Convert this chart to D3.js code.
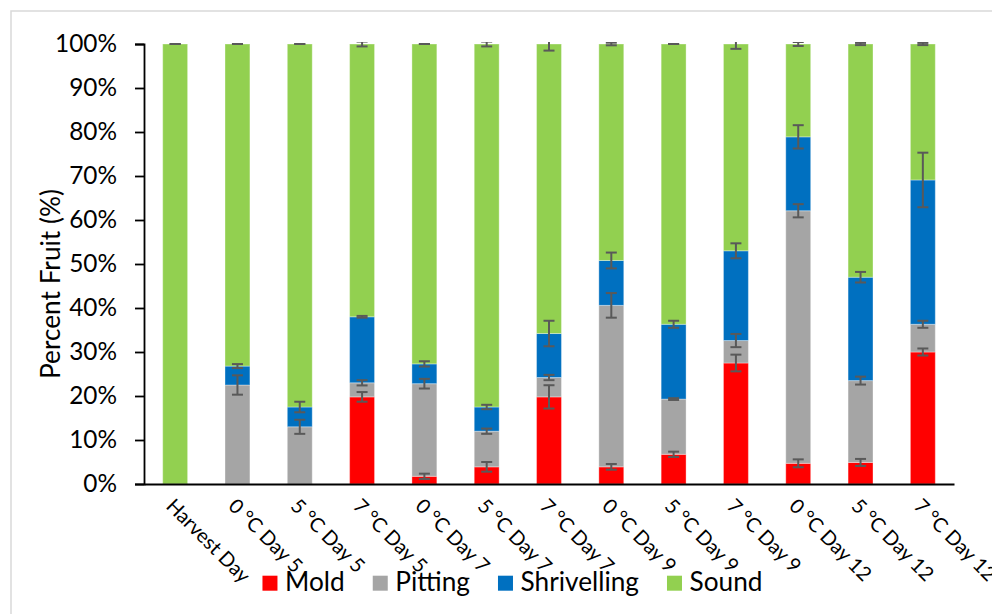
<!DOCTYPE html>
<html>
<head>
<meta charset="utf-8">
<script src="https://cdn.jsdelivr.net/npm/d3@7"></script>
<style>
  html, body { margin: 0; padding: 0; background: #fff; }
  svg { display: block; }
</style>
</head>
<body>
<svg id="chart" width="992" height="614"></svg>
<script>
// ---- data ----
const categories = ["Harvest Day", "0 °C Day 5", "5 °C Day 5", "7 °C Day 5", "0 °C Day 7", "5 °C Day 7", "7 °C Day 7", "0 °C Day 9", "5 °C Day 9", "7 °C Day 9", "0 °C Day 12", "5 °C Day 12", "7 °C Day 12"];
const seriesNames = ["Mold", "Pitting", "Shrivelling", "Sound"];
const mold        = [0, 0, 0, 19.8, 1.75, 3.9, 19.8, 3.9, 6.75, 27.5, 4.7, 4.9, 30.0];
const pitting     = [0, 22.5, 13.0, 3.2, 21.05, 8.1, 4.4, 36.7, 12.55, 5.1, 57.4, 18.6, 6.3];
const shrivelling = [0, 4.3, 4.5, 15.0, 4.5, 5.5, 10.0, 10.2, 17.0, 20.4, 16.8, 23.5, 32.8];
const sound       = [100, 73.2, 82.5, 62.0, 72.7, 82.5, 65.8, 49.2, 63.7, 47.0, 21.1, 53.0, 30.9];
const moldErr        = [0, 0, 0, 1.1, 0.6, 1.1, 2.65, 0.65, 0.6, 1.9, 0.9, 0.8, 0.8];
const pittingErr     = [0, 2.2, 1.6, 0.6, 1.1, 0.6, 0.6, 2.8, 0.2, 1.5, 1.5, 0.9, 0.8];
const shrivellingErr = [0, 0.45, 1.2, 0.2, 0.6, 0.5, 2.9, 1.8, 0.8, 1.7, 2.65, 1.2, 6.2];
const soundErr       = [0, 0, 0, 0.55, 0, 0.55, 1.5, 0.3, 0, 1.1, 0.45, 0.25, 0.25];
const yTicks = [0, 10, 20, 30, 40, 50, 60, 70, 80, 90, 100];

// ---- styling ----
const colors = { "Mold": "#FF0000", "Pitting": "#A5A5A5", "Shrivelling": "#0070C0", "Sound": "#92D050" };
const FONT = "Lato, 'Noto Sans', sans-serif";

const svg = d3.select("#chart");

function fitSize(text, target) {
  const t = svg.append("text").attr("font-family", FONT).attr("font-size", 100).text(text);
  const w = t.node().getComputedTextLength();
  t.remove();
  return 100 * target / w;
}
const tickFS = fitSize("100%", 62);
const legendFS = fitSize("Shrivelling", 118.5);
const titleFS = fitSize("Percent Fruit (%)", 190);
const xFS = tickFS * 0.82;

// border
svg.append("rect").attr("x", 11).attr("y", 11).attr("width", 1100).attr("height", 800)
  .attr("fill", "none").attr("stroke", "#D9D9D9").attr("stroke-width", 1.5);

const plot = { left: 144, right: 954, top: 44, bottom: 484 };

const x = d3.scaleBand().domain(categories).range([plot.left, plot.right])
  .paddingInner(0.6).paddingOuter(0.3);
const y = d3.scaleLinear().domain([0, 100]).range([plot.bottom, plot.top]);

// table for stacking
const values = { "Mold": mold, "Pitting": pitting, "Shrivelling": shrivelling, "Sound": sound };
const errors = { "Mold": moldErr, "Pitting": pittingErr, "Shrivelling": shrivellingErr, "Sound": soundErr };
const table = categories.map((c, i) => {
  const row = { cat: c };
  seriesNames.forEach(s => row[s] = values[s][i]);
  return row;
});
const stacked = d3.stack().keys(seriesNames)(table);

// clip
svg.append("clipPath").attr("id", "clip").append("rect")
  .attr("x", plot.left).attr("y", plot.top - 2).attr("width", plot.right - plot.left).attr("height", plot.bottom - plot.top + 2);

// bars
const gBars = svg.append("g");
stacked.forEach(layer => {
  gBars.append("g").attr("fill", colors[layer.key])
    .selectAll("rect").data(layer).join("rect")
    .attr("x", d => x(d.data.cat))
    .attr("width", x.bandwidth())
    .attr("y", d => y(d[1]))
    .attr("height", d => Math.max(0, y(d[0]) - y(d[1])))
    .attr("stroke", "#ffffff").attr("stroke-opacity", 0.35).attr("stroke-width", 1);
});

// error bars
const gErr = svg.append("g").attr("clip-path", "url(#clip)")
  .attr("stroke", "#595959").attr("stroke-width", 2).attr("fill", "none");
const capHalf = 5.5;
stacked.forEach(layer => {
  layer.forEach((d, i) => {
    const v = d[1] - d[0];
    if (v <= 0) return;
    const e = errors[layer.key][i];
    const cx = x(d.data.cat) + x.bandwidth() / 2;
    const y1 = y(d[1] + e), y2 = y(d[1] - e);
    gErr.append("line").attr("x1", cx).attr("x2", cx).attr("y1", y1).attr("y2", y2);
    gErr.append("line").attr("x1", cx - capHalf).attr("x2", cx + capHalf).attr("y1", y1).attr("y2", y1);
    gErr.append("line").attr("x1", cx - capHalf).attr("x2", cx + capHalf).attr("y1", y2).attr("y2", y2);
  });
});

// y axis
const yAxis = d3.axisLeft(y).tickValues(yTicks).tickFormat(d => d + "%").tickSize(9).tickPadding(18);
const gy = svg.append("g").attr("transform", `translate(${plot.left},0)`).call(yAxis);
gy.select(".domain").attr("stroke", "#000").attr("stroke-width", 1.8);
gy.selectAll(".tick line").attr("stroke", "#000").attr("stroke-width", 1.8);
gy.selectAll(".tick text").attr("font-family", FONT).attr("font-size", tickFS).attr("fill", "#000");

// x axis
const xAxis = d3.axisBottom(x).tickSize(0).tickFormat("");
const gx = svg.append("g").attr("transform", `translate(0,${plot.bottom})`).call(xAxis);
gx.select(".domain").attr("stroke", "#000").attr("stroke-width", 2);
gx.selectAll(".tick").each(function(d) {
  d3.select(this).append("text")
    .attr("transform", "translate(0,13) rotate(45)")
    .attr("text-anchor", "start")
    .attr("dy", "0.72em")
    .attr("font-family", FONT).attr("font-size", xFS).attr("fill", "#000")
    .text(d);
});

// y title
svg.append("text")
  .attr("transform", "translate(50,284) rotate(-90)")
  .attr("text-anchor", "middle").attr("dominant-baseline", "central")
  .attr("font-family", FONT).attr("font-size", titleFS).attr("fill", "#000")
  .text("Percent Fruit (%)");

// legend
const gLeg = svg.append("g");
let cursor = 0;
const items = [];
seriesNames.forEach(s => {
  const g = gLeg.append("g").attr("transform", `translate(${cursor},0)`);
  g.append("rect").attr("x", 0).attr("y", -15).attr("width", 15).attr("height", 15).attr("fill", colors[s]);
  const t = g.append("text").attr("x", 22.6).attr("y", 0)
    .attr("font-family", FONT).attr("font-size", legendFS).attr("fill", "#000").text(s);
  const w = t.node().getComputedTextLength();
  cursor += 22.6 + w + 28;
});
const legW = cursor - 28;
gLeg.attr("transform", `translate(${512.5 - legW / 2},590.7)`);
</script>
</body>
</html>
